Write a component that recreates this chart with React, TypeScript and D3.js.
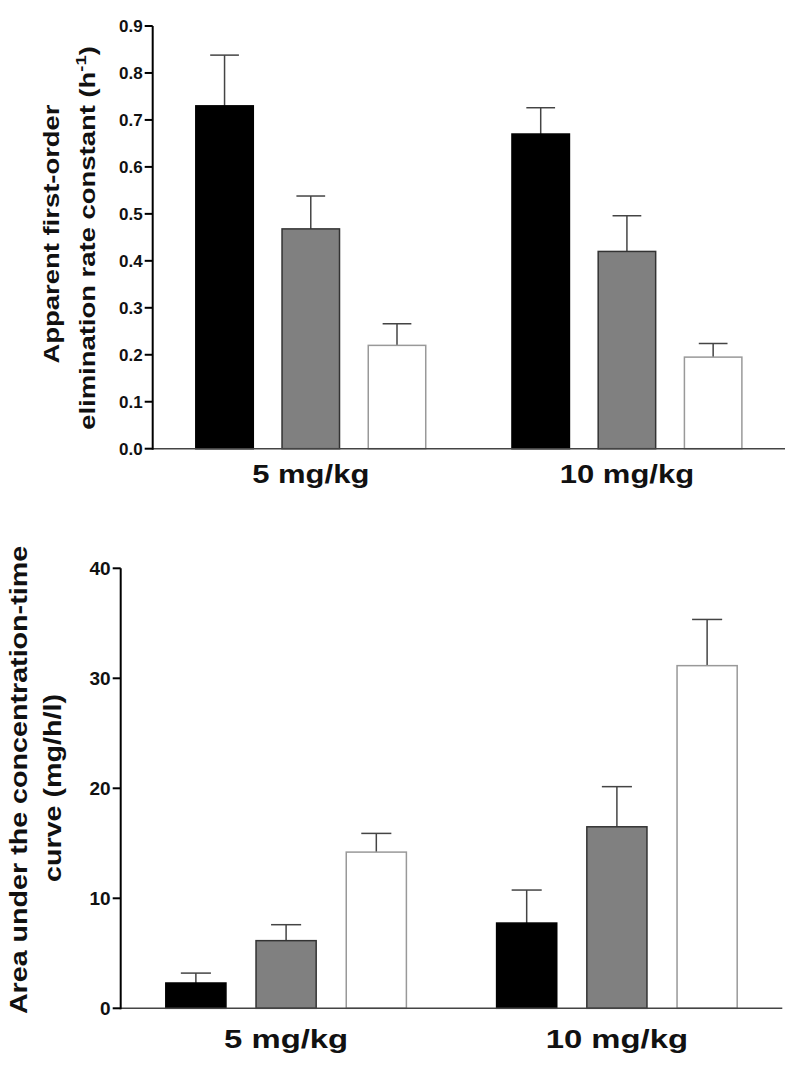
import React from "react";
import * as d3 from "d3";

const groups = ["5 mg/kg", "10 mg/kg"];
const series = ["s1", "s2", "s3"];
const fills = ["#000000", "#808080", "#ffffff"];
const strokes = ["#000000", "#333333", "#999999"];

// Top chart: elimination rate constant
const kMean = [
  [0.73, 0.468, 0.22],
  [0.67, 0.42, 0.195],
];
const kErr = [
  [0.108, 0.07, 0.046],
  [0.056, 0.076, 0.029],
];
const kTicks = [0, 0.1, 0.2, 0.3, 0.4, 0.5, 0.6, 0.7, 0.8, 0.9];

// Bottom chart: AUC
const aucMean = [
  [2.3, 6.15, 14.2],
  [7.75, 16.5, 31.15],
];
const aucErr = [
  [0.9, 1.45, 1.7],
  [3.0, 3.65, 4.2],
];
const aucTicks = [0, 10, 20, 30, 40];

const FONT = "'Liberation Sans', Arial, Helvetica, sans-serif";
const STRETCH = 1.22;

type PanelProps = {
  x0: number;
  x1: number;
  yTop: number;
  yBot: number;
  domainMax: number;
  means: number[][];
  errs: number[][];
  ticks: number[];
  tickFmt: (v: number) => string;
  tickFont: number;
  catFont: number;
  catY: number;
};

function Panel(p: PanelProps) {
  const xg = d3.scaleBand<string>().domain(groups).range([p.x0, p.x1]).padding(0);
  const xs = d3
    .scaleBand<string>()
    .domain(series)
    .range([0, xg.bandwidth()])
    .paddingInner(1 / 3)
    .paddingOuter(0.5);
  const y = d3.scaleLinear().domain([0, p.domainMax]).range([p.yBot, p.yTop]);
  const bw = xs.bandwidth();
  return (
    <g>
      {groups.map((g, gi) =>
        series.map((s, si) => {
          const bx = (xg(g) as number) + (xs(s) as number);
          const m = p.means[gi][si];
          const e = p.errs[gi][si];
          const cx = bx + bw / 2;
          return (
            <g key={g + s}>
              <line x1={cx} x2={cx} y1={y(m)} y2={y(m + e)} stroke="#444" strokeWidth={1.5} />
              <line x1={cx - bw / 4} x2={cx + bw / 4} y1={y(m + e)} y2={y(m + e)} stroke="#444" strokeWidth={1.5} />
              <rect
                x={bx}
                y={y(m)}
                width={bw}
                height={y(0) - y(m)}
                fill={fills[si]}
                stroke={strokes[si]}
                strokeWidth={1.5}
              />
            </g>
          );
        })
      )}
      {/* x axis */}
      <line x1={p.x0} x2={p.x1} y1={p.yBot} y2={p.yBot} stroke="#444" strokeWidth={1.5} />
      {/* y axis */}
      <line x1={p.x0} x2={p.x0} y1={p.yTop} y2={p.yBot + 1} stroke="#000" strokeWidth={2} />
      {p.ticks.map((t) => (
        <g key={t}>
          <line x1={p.x0 - 8} x2={p.x0} y1={y(t)} y2={y(t)} stroke="#000" strokeWidth={2} />
          <text
            x={p.x0 - 10}
            y={y(t)}
            dy="0.35em"
            textAnchor="end"
            fontFamily={FONT}
            fontWeight="bold"
            fontSize={p.tickFont}
            fill="#111"
          >
            {p.tickFmt(t)}
          </text>
        </g>
      ))}
      {groups.map((g) => (
        <text
          key={g}
          transform={`translate(${(xg(g) as number) + xg.bandwidth() / 2},${p.catY}) scale(${STRETCH + 0.02},1)`}
          textAnchor="middle"
          fontFamily={FONT}
          fontWeight="bold"
          fontSize={p.catFont}
          fill="#111"
        >
          {g}
        </text>
      ))}
    </g>
  );
}

function VTitle({ x, y, size, children }: { x: number; y: number; size: number; children: React.ReactNode }) {
  return (
    <text
      transform={`translate(${x},${y}) rotate(-90) scale(${STRETCH},1)`}
      textAnchor="middle"
      fontFamily={FONT}
      fontWeight="bold"
      fontSize={size}
      fill="#111"
    >
      {children}
    </text>
  );
}

export default function App() {
  return (
    <svg
      width={800}
      height={1089}
      style={{ position: "absolute", left: 0, top: 0, background: "#fff" }}
    >
      <Panel
        x0={152.7}
        x1={785}
        yTop={26}
        yBot={448.7}
        domainMax={0.9}
        means={kMean}
        errs={kErr}
        ticks={kTicks}
        tickFmt={d3.format(".1f")}
        tickFont={17}
        catFont={25}
        catY={483}
      />
      <VTitle x={59} y={234} size={22.5}>
        Apparent first-order
      </VTitle>
      <VTitle x={95} y={238} size={22.5}>
        elimination rate constant (h
        <tspan fontSize={15} dy={-9}>-1</tspan>
        <tspan dy={9}>)</tspan>
      </VTitle>

      <Panel
        x0={120.7}
        x1={782.3}
        yTop={568.3}
        yBot={1008.3}
        domainMax={40}
        means={aucMean}
        errs={aucErr}
        ticks={aucTicks}
        tickFmt={d3.format("d")}
        tickFont={19}
        catFont={26.5}
        catY={1048}
      />
      <VTitle x={27} y={780} size={23.5}>
        Area under the concentration-time
      </VTitle>
      <VTitle x={61} y={788} size={23.5}>
        curve (mg/h/l)
      </VTitle>
    </svg>
  );
}
